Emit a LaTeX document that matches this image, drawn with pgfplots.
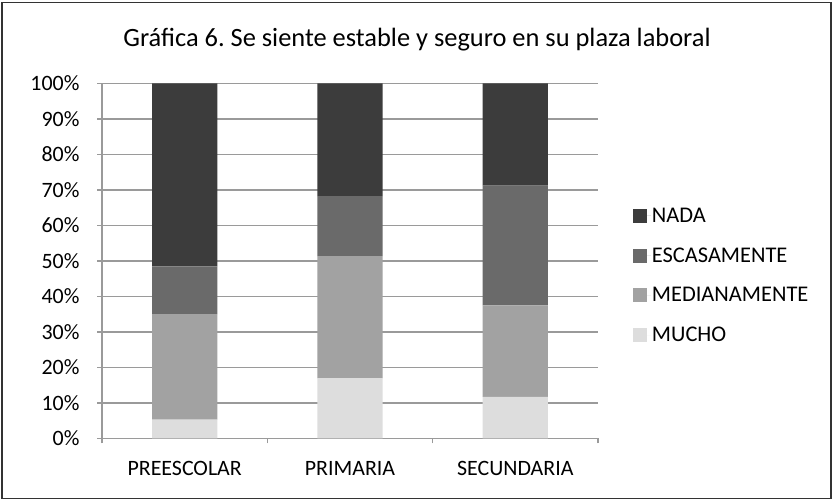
\documentclass[border=0pt]{standalone}
\usepackage{pgfplots}
\pgfplotsset{compat=1.18}
\usepackage{fontspec}
\setmainfont{Carlito}
\frenchspacing
\definecolor{cNada}{HTML}{3C3C3C}
\definecolor{cEsc}{HTML}{6A6A6A}
\definecolor{cMed}{HTML}{A2A2A2}
\definecolor{cMucho}{HTML}{DDDDDD}
\definecolor{gridgray}{HTML}{9A9A9A}
\begin{document}
\begin{tikzpicture}[x=1bp,y=1bp]
\path[use as bounding box] (0,0) rectangle (836,501);
\draw[line width=1.1bp, black!80] (2,2.5) rectangle (831,498.5);
\node[font=\fontsize{26.5}{30}\selectfont] at (417,461) {Gráfica 6. Se siente estable y seguro en su plaza laboral};
\begin{axis}[
  at={(102bp,62.5bp)}, anchor=south west,
  scale only axis, width=496bp, height=355bp,
  ybar stacked, bar width=0.395,
  xmin=-0.5, xmax=2.5, ymin=0, ymax=100,
  axis x line=bottom, axis y line=left,
  axis line style={draw=gridgray, line width=1.1bp, -},
  ymajorgrids, grid style={draw=gridgray, line width=1.1bp},
  ytick={0,10,...,100},
  yticklabel={\pgfmathprintnumber{\tick}\%},
  xtick={0,1,2},
  xticklabels={PREESCOLAR,PRIMARIA,SECUNDARIA},
  minor xtick={-0.5,0.5,1.5,2.5},
  tick align=outside,
  major tick length=5bp, minor tick length=5bp,
  xtick style={draw=none},
  minor x tick style={draw=gridgray, line width=1.1bp},
  y tick style={draw=gridgray, line width=1.1bp},
  /pgf/number format/assume math mode=true,
  tick label style={font=\fontsize{22}{24}\selectfont, black},
  yticklabel style={xshift=-14bp},
  xticklabel style={yshift=-14bp},
  legend style={draw=none, fill=none, at={(1.064,0.459)}, anchor=west,
    font=\fontsize{22.5}{24}\selectfont, row sep=22bp,
    nodes={inner sep=1bp}},
  legend cell align=left,
  reverse legend,
  legend image code/.code={\fill[#1] (0bp,-7bp) rectangle (14bp,7bp); \path (0bp,0bp) -- (18bp,0bp);},
  clip=false,
]
\addplot[fill=cMucho, draw=none] coordinates {(0,5.3) (1,16.9) (2,11.7)};
\addplot[fill=cMed, draw=none] coordinates {(0,29.7) (1,34.5) (2,25.8)};
\addplot[fill=cEsc, draw=none] coordinates {(0,13.5) (1,16.9) (2,33.7)};
\addplot[fill=cNada, draw=none] coordinates {(0,51.5) (1,31.7) (2,28.8)};
\legend{MUCHO,MEDIANAMENTE,ESCASAMENTE,NADA}
\end{axis}
\end{tikzpicture}
\end{document}
